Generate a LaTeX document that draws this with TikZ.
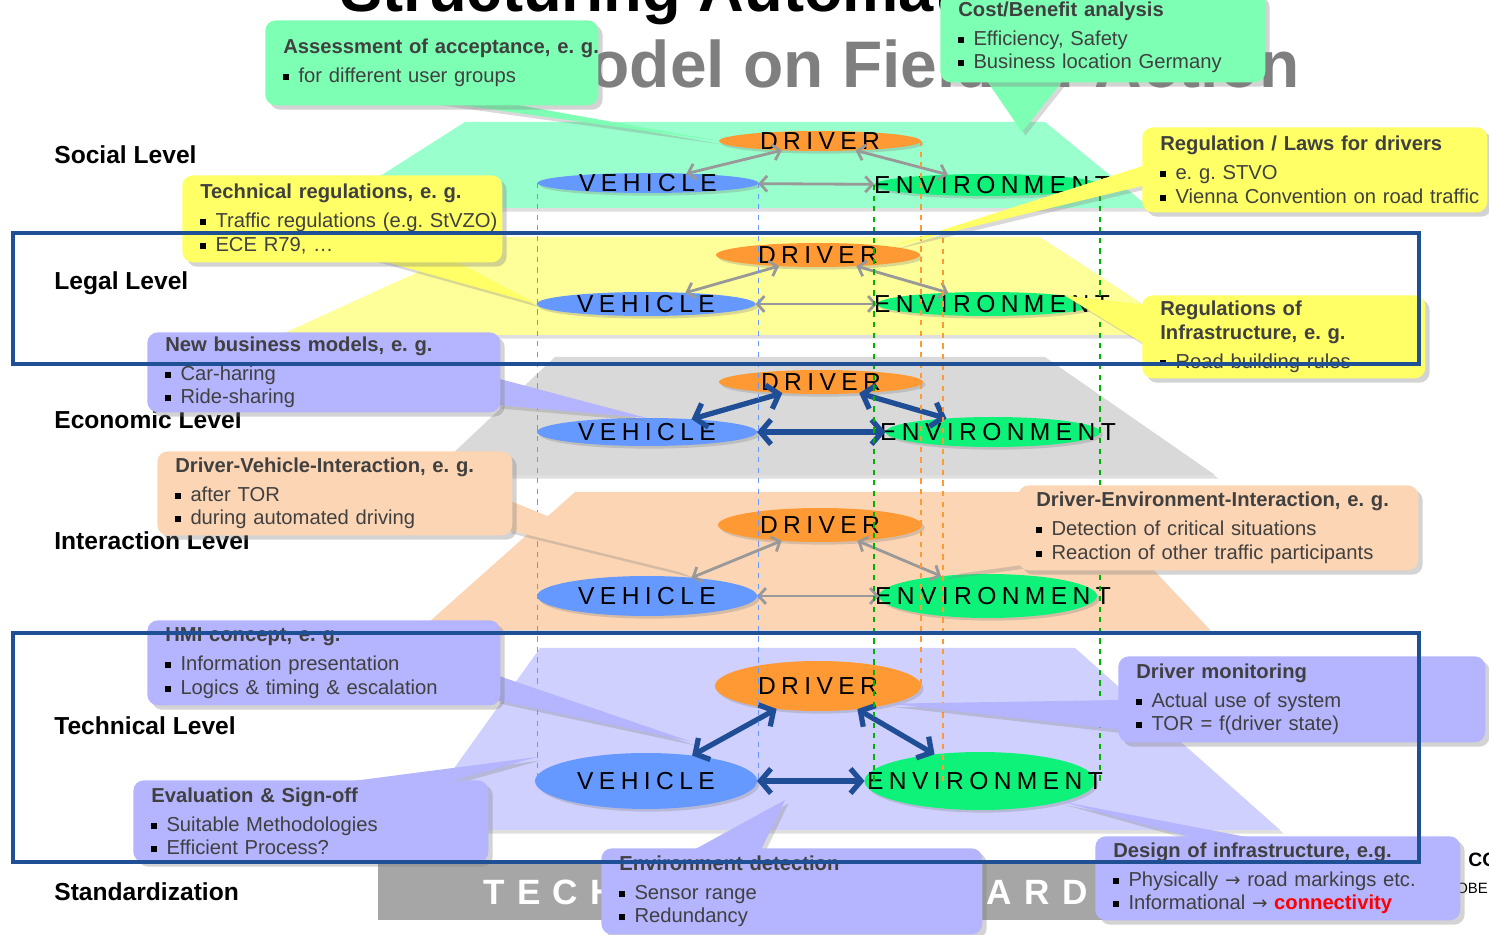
\documentclass[tikz,border=0pt]{standalone}
\usepackage{fontspec}
\setmainfont{Liberation Sans}
\newfontfamily\spacedfont[LetterSpace=22]{Liberation Sans}
\newfontfamily\barfont[LetterSpace=35]{Liberation Sans}
\newfontfamily\arrowfont{DejaVu Sans}
\usetikzlibrary{shapes.geometric,shadows,arrows.meta}
\frenchspacing

\definecolor{socialfill}{HTML}{99FFCC}
\definecolor{legalfill}{HTML}{FFFF99}
\definecolor{econfill}{HTML}{D9D9D9}
\definecolor{interfill}{HTML}{FCD5B4}
\definecolor{techfill}{HTML}{D0D0FF}
\definecolor{callgreen}{HTML}{7DFFB4}
\definecolor{callyellow}{HTML}{FFFF66}
\definecolor{calllilac}{HTML}{B4B4FF}
\definecolor{callpeach}{HTML}{FCD5B4}
\definecolor{drvorange}{HTML}{FF9933}
\definecolor{vehblue}{HTML}{6699FF}
\definecolor{envgreen}{HTML}{0FF27A}
\definecolor{linkgray}{HTML}{999999}
\definecolor{linkblue}{HTML}{1F4E96}
\definecolor{frameblue}{HTML}{1F5096}
\definecolor{textgray}{HTML}{404040}
\definecolor{titlegray}{HTML}{7F7F7F}
\definecolor{bargray}{HTML}{A6A6A6}

\newcommand{\bul}{{\color{black}\rule[0.12em]{0.3em}{0.3em}}\hspace{0.45em}}
\newcommand{\ctitle}[1]{\mbox{\bfseries #1}\\[2.8pt]}
\newcommand{\citem}[1]{\mbox{\bul #1}}
\newcommand{\toarrow}{{\arrowfont\fontsize{10.5}{10}\selectfont →}}

\tikzset{
  lvllabel/.style={anchor=west, inner sep=0pt, font=\fontsize{14}{16}\selectfont\bfseries},
  plane/.style={drop shadow={opacity=0.25, shadow xshift=2pt, shadow yshift=-2pt}},
  ell/.style={ellipse, inner sep=0pt, outer sep=0pt,
    drop shadow={opacity=0.3, shadow xshift=1.5pt, shadow yshift=-1.5pt}},
  drv/.style={ell, fill=drvorange},
  veh/.style={ell, fill=vehblue},
  env/.style={ell, fill=envgreen},
  elltext/.style={inner sep=0pt, font=\spacedfont\fontsize{14}{14}\selectfont},
  thinlink/.style={draw=linkgray, line width=1.6pt,
    arrows={Straight Barb[length=4pt,width=9pt]-Straight Barb[length=4pt,width=9pt]}},
  thicklink/.style={draw=linkblue, line width=3pt,
    arrows={Straight Barb[length=6pt,width=14pt]-Straight Barb[length=6pt,width=14pt]}},
  dashv/.style={dashed, line width=0.7pt},
  callout/.style={rounded corners=6pt, anchor=north west, align=left,
    inner xsep=0.36cm, inner ysep=0pt, text=textgray,
    font=\fontsize{11.5}{13.6}\selectfont,
    drop shadow={opacity=0.35, shadow xshift=2.5pt, shadow yshift=-2.5pt}},
  tail/.style={drop shadow={opacity=0.3, shadow xshift=2pt, shadow yshift=-2pt}},
  frame/.style={draw=frameblue, line width=2.3pt}
}

\begin{document}
\begin{tikzpicture}[x=0.02cm, y=-0.02cm]
\useasboundingbox (0,0) rectangle (1489,935);
\clip (0,0) rectangle (1489,935);

% titles behind everything
\node[anchor=base west, inner sep=0pt, font=\fontsize{36}{36}\selectfont\bfseries] (title1) at (340,12) {Structuring Automation};
\node[anchor=base east, inner sep=0pt, text=titlegray, font=\fontsize{37.5}{37.5}\selectfont\bfseries] (title2) at (1300,88) {Model on Field of Action};

% level names
\node[lvllabel] (lblsocial) at (54,155) {Social Level};
\node[lvllabel] (lbllegal) at (54,283) {Legal Level};
\node[lvllabel] (lblecon) at (54,420) {Economic Level};
\node[lvllabel] (lblinter) at (54,541) {Interaction Level};
\node[lvllabel] (lbltech) at (54,726) {Technical Level};
\node[lvllabel] (lblstd) at (54,892) {Standardization};

% planes
\fill[socialfill, plane] (465,122) -- (1045,122) -- (1150,208) -- (330,208) -- cycle;
\fill[legalfill, plane] (495,237) -- (1040,237) -- (1190,335) -- (280,335) -- cycle;
\fill[econfill, plane] (555,357) -- (1045,357) -- (1215,475) -- (430,475) -- cycle;
\fill[interfill, plane] (575,492) -- (1080,492) -- (1210,630) -- (420,630) -- cycle;
\fill[techfill, plane] (540,648) -- (1075,648) -- (1280,830) -- (410,830) -- cycle;

% standards bar
\fill[bargray] (378,863) rectangle (1110,920);
\node[anchor=base west, inner sep=0pt, text=white, font=\barfont\fontsize{20}{20}\selectfont\bfseries] (stdtext) at (483,905) {TECHNICAL STANDARDS};
\node[anchor=base west, inner sep=0pt, font=\fontsize{11}{11}\selectfont\bfseries] (co) at (1468,867) {CO};
\node[anchor=base west, inner sep=0pt, font=\fontsize{8.5}{8.5}\selectfont] (obe) at (1456,894) {OBE};

% social level
\node[drv, minimum width=4.04cm, minimum height=0.4cm] (sD) at (820,141) {};
\node[veh, minimum width=4.42cm, minimum height=0.4cm] (sV) at (648,183) {};
\node[env, minimum width=4.52cm, minimum height=0.44cm] (sE) at (987,185) {};
% legal level
\node[drv, minimum width=4.08cm, minimum height=0.48cm] (lD) at (818,255) {};
\node[veh, minimum width=4.38cm, minimum height=0.48cm] (lV) at (646,304) {};
\node[env, minimum width=4.4cm, minimum height=0.48cm] (lE) at (987,304) {};
% economic level
\node[drv, minimum width=4.08cm, minimum height=0.48cm] (eD) at (821,382) {};
\node[veh, minimum width=4.4cm, minimum height=0.56cm] (eV) at (647,432) {};
\node[env, minimum width=4.3cm, minimum height=0.6cm] (eE) at (993,432) {};
% interaction level
\node[drv, minimum width=4.08cm, minimum height=0.68cm] (iD) at (820,525) {};
\node[veh, minimum width=4.4cm, minimum height=0.8cm] (iV) at (647,596) {};
\node[env, minimum width=4.36cm, minimum height=0.88cm] (iE) at (988,596) {};
% technical level
\node[drv, minimum width=4.12cm, minimum height=1.0cm] (tD) at (818,686) {};
\node[veh, minimum width=4.44cm, minimum height=1.12cm] (tV) at (646,781) {};
\node[env, minimum width=4.62cm, minimum height=1.16cm] (tE) at (980,781) {};

\foreach \lv in {s,l,e,i,t}{
  \node[elltext] (\lv Dt) at (\lv D) {DRIVER};
  \node[elltext] (\lv Vt) at (\lv V) {VEHICLE};
  \node[elltext] (\lv Et) at ([xshift=5*0.02cm]\lv E.center) {ENVIRONMENT};
}

% links
\foreach \lv in {s,l,i}{
  \draw[thinlink] (\lv V) -- (\lv D);
  \draw[thinlink] (\lv D) -- (\lv E);
  \draw[thinlink] (\lv V) -- (\lv E);
}
\foreach \lv in {e,t}{
  \draw[thicklink] (\lv V) -- (\lv D);
  \draw[thicklink] (\lv D) -- (\lv E);
  \draw[thicklink] (\lv V) -- (\lv E);
}

% projection lines
\coordinate (orgtop) at (943,238);
\draw[dashv, vehblue] (sV.west) -- (sV.west |- tV.center);
\draw[dashv, vehblue] (sV.east) -- (sV.east |- tV.center);
\draw[dashv, green!70!black] (sE.west) -- (sE.west |- tE.center);
\draw[dashv, green!70!black] (sE.east) -- (sE.east |- tE.center);
\draw[dashv, drvorange] (sD.east) -- (sD.east |- tD.center);
\draw[dashv, drvorange] (orgtop) -- (orgtop |- tE.center);

% callout tips
\coordinate (costtip) at (1022,132);
\coordinate (dvitip) at (692,575);
\coordinate (deitip) at (942,576);
\coordinate (hmitip) at (692,742);
\coordinate (evaltip) at (537,757);
\coordinate (envdettip) at (785,800);

% callouts
\fill[callgreen, tail] (425,100) -- (sD.west) -- (490,100) -- cycle;
\node[callout, fill=callgreen, text width=5.94cm, minimum height=1.7cm] (assess) at (265,20)
  {\ctitle{Assessment of acceptance, e. g.}\citem{for different user groups}};
\fill[callgreen, tail] (985,78) -- (costtip) -- (1065,78) -- cycle;
\node[callout, fill=callgreen, text width=5.78cm, minimum height=1.8cm] (cost) at (940,-8)
  {\ctitle{Cost/Benefit analysis}\citem{Efficiency, Safety}\\\citem{Business location Germany}};

\fill[callyellow, tail] (1146,165) -- (lD.north east) -- (1146,185) -- cycle;
\node[callout, fill=callyellow, text width=6.18cm, minimum height=1.7cm] (reglaw) at (1142,127)
  {\ctitle{Regulation / Laws for drivers}\citem{e. g. STVO}\\\citem{Vienna Convention on road traffic}};
\fill[callyellow, tail] (372,258) -- (lV.west) -- (450,258) -- cycle;
\node[callout, fill=callyellow, text width=5.68cm, minimum height=1.74cm] (techreg) at (182,175)
  {\ctitle{Technical regulations, e. g.}\citem{Traffic regulations (e.g. StVZO)}\\\citem{ECE R79, \dots}};
\fill[callyellow, tail] (1146,305) -- (lE.north east) -- (1146,345) -- cycle;
\node[callout, fill=callyellow, text width=4.94cm, minimum height=1.66cm] (reginfra) at (1142,295)
  {\mbox{\bfseries Regulations of}\\\ctitle{Infrastructure, e. g.}\citem{Road building rules}};

\fill[calllilac, tail] (496,378) -- (eV.north) -- (496,405) -- cycle;
\node[callout, fill=calllilac, text width=6.34cm, minimum height=1.6cm] (newbiz) at (147,332)
  {\ctitle{New business models, e. g.}\citem{Car-haring}\\\citem{Ride-sharing}};

\fill[callpeach, tail] (508,500) -- (dvitip) -- (508,530) -- cycle;
\node[callout, fill=callpeach, text width=6.38cm, minimum height=1.68cm] (dvi) at (157,451)
  {\ctitle{Driver-Vehicle-Interaction, e. g.}\citem{after TOR}\\\citem{during automated driving}};
\fill[callpeach, tail] (1022,545) -- (deitip) -- (1022,565) -- cycle;
\node[callout, fill=callpeach, text width=7.28cm, minimum height=1.7cm] (dei) at (1018,485)
  {\ctitle{Driver-Environment-Interaction, e. g.}\citem{Detection of critical situations}\\\citem{Reaction of other traffic participants}};

\fill[calllilac, tail] (496,675) -- (hmitip) -- (496,700) -- cycle;
\node[callout, fill=calllilac, text width=6.34cm, minimum height=1.7cm] (hmi) at (147,620)
  {\ctitle{HMI concept, e. g.}\citem{Information presentation}\\\citem{Logics \& timing \& escalation}};
\fill[calllilac, tail] (1122,700) -- (tD.south east) -- (1122,730) -- cycle;
\node[callout, fill=calllilac, text width=6.62cm, minimum height=1.72cm] (drvmon) at (1118,656)
  {\ctitle{Driver monitoring}\citem{Actual use of system}\\\citem{TOR = f(driver state)}};
\fill[calllilac, tail] (330,784) -- (evaltip) -- (440,784) -- cycle;
\node[callout, fill=calllilac, text width=6.38cm, minimum height=1.64cm] (evalso) at (133,780)
  {\ctitle{Evaluation \& Sign-off}\citem{Suitable Methodologies}\\\citem{Efficient Process?}};
\fill[calllilac, tail] (690,852) -- (envdettip) -- (760,852) -- cycle;
\node[callout, fill=calllilac, text width=6.9cm, minimum height=1.72cm] (envdet) at (601,848)
  {\ctitle{Environment detection}\citem{Sensor range}\\\citem{Redundancy}};
\fill[calllilac, tail] (1200,840) -- (tE.south east) -- (1262,840) -- cycle;
\node[callout, fill=calllilac, text width=6.58cm, minimum height=1.68cm] (desinf) at (1095,836)
  {\ctitle{Design of infrastructure, e.g.}\citem{Physically \toarrow{} road markings etc.}\\\citem{Informational \toarrow{} {\color{red}\bfseries connectivity}}};

% frames on top
\draw[frame] (13,233) rectangle (1419,364);
\draw[frame] (13,633) rectangle (1419,862);
\end{tikzpicture}
\end{document}
